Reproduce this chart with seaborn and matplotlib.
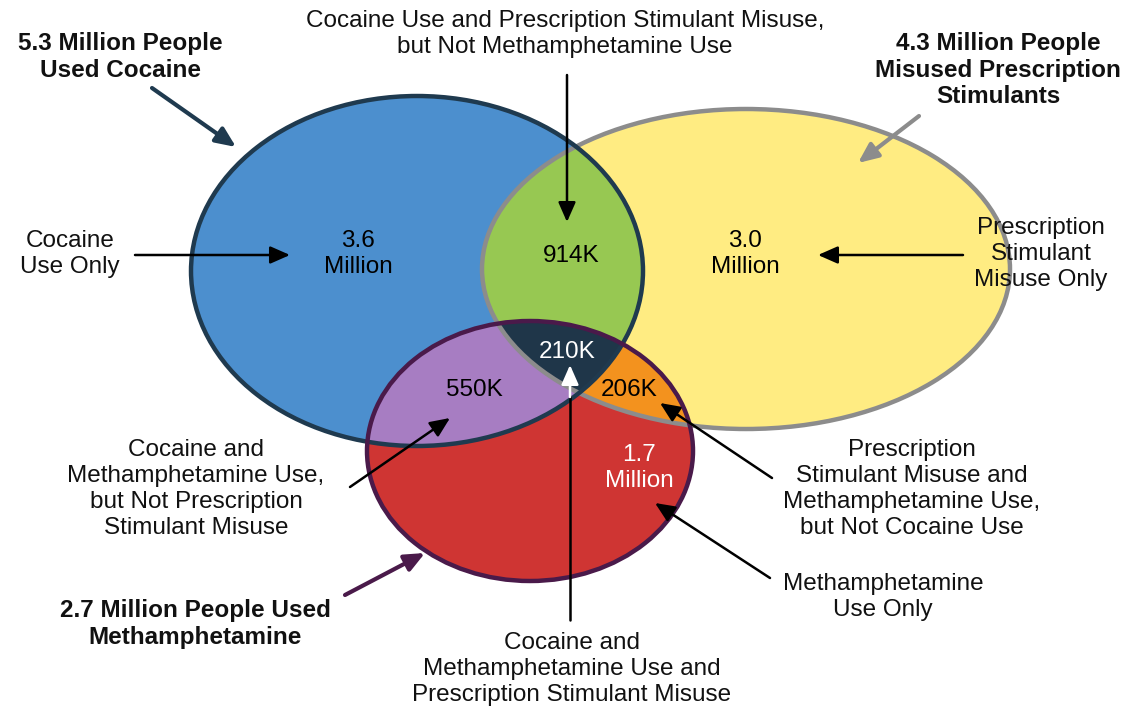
import numpy as np
import seaborn as sns
import matplotlib.pyplot as plt
from matplotlib.patches import Ellipse, Polygon

sns.set_style('white')
plt.rcParams['font.family'] = ['Liberation Sans', 'DejaVu Sans']

# set totals (millions) and region counts
set_names = ['Cocaine', 'Stimulants', 'Methamphetamine']
set_totals = ['5.3', '4.3', '2.7']
region_keys = ['C', 'S', 'M', 'CS', 'CM', 'SM', 'CSM']
region_values = ['3.6\nMillion', '3.0\nMillion', '1.7\nMillion', '914K', '550K', '206K', '210K']

# ellipse geometry in pixel space: centre x, centre y, width, height
shapes = {
    'C': (417, 271, 452, 350),
    'S': (746, 269, 528, 320),
    'M': (530, 451, 326, 260),
}
fill = {'C': '#4c8fce', 'S': '#ffec82', 'M': '#cf3533',
        'CS': '#97c852', 'CM': '#a77dc2', 'SM': '#f3921e', 'CSM': '#1f3649'}
edge = {'C': '#1f3a4f', 'S': '#8c8c8c', 'M': '#4a1a4a'}


def outline(key, n=1440):
    cx, cy, w, h = shapes[key]
    t = np.linspace(0, 2 * np.pi, n, endpoint=False)
    return np.column_stack([cx + w / 2 * np.cos(t), cy + h / 2 * np.sin(t)])


def inside(pts, key):
    cx, cy, w, h = shapes[key]
    return ((pts[:, 0] - cx) / (w / 2)) ** 2 + ((pts[:, 1] - cy) / (h / 2)) ** 2 <= 1.0001


def overlap(keys):
    # intersection of convex shapes: boundary points inside all others, sorted by angle
    pts = []
    for k in keys:
        p = outline(k)
        mask = np.ones(len(p), bool)
        for o in keys:
            if o != k:
                mask &= inside(p, o)
        pts.append(p[mask])
    pts = np.vstack(pts)
    c = pts.mean(axis=0)
    ang = np.arctan2(pts[:, 1] - c[1], pts[:, 0] - c[0])
    return pts[np.argsort(ang)]


fig = plt.figure(figsize=(11.27, 7.08), dpi=100)
ax = fig.add_axes([0, 0, 1, 1])
ax.set_xlim(0, 1127)
ax.set_ylim(708, 0)
ax.axis('off')

for k in ['C', 'S', 'M']:
    cx, cy, w, h = shapes[k]
    ax.add_patch(Ellipse((cx, cy), w, h, facecolor=fill[k], edgecolor='none'))
for k in ['CS', 'CM', 'SM', 'CSM']:
    ax.add_patch(Polygon(overlap(list(k)), closed=True, facecolor=fill[k], edgecolor='none'))
for k in ['S', 'C', 'M']:
    cx, cy, w, h = shapes[k]
    ax.add_patch(Ellipse((cx, cy), w, h, facecolor='none', edgecolor=edge[k], linewidth=3.2))

fs = 17.5
ls = 1.22
# region numbers
value_pos = {'C': (358, 254), 'S': (745, 254), 'M': (639, 468), 'CS': (571, 256),
             'CM': (474, 390), 'SM': (629, 390), 'CSM': (567, 352)}
for k, v in zip(region_keys, region_values):
    col = 'white' if k in ('M', 'CSM') else 'black'
    x, y = value_pos[k]
    ax.text(x, y, v, ha='center', va='center', fontsize=fs, color=col, linespacing=ls)

# set titles
bold = dict(fontsize=fs, fontweight='bold', ha='center', va='center', linespacing=ls, color='#111111')
ax.text(120, 57, f'{set_totals[0]} Million People\nUsed Cocaine', **bold)
ax.text(998, 70, f'{set_totals[1]} Million People\nMisused Prescription\nStimulants', **bold)
ax.text(195, 624, f'{set_totals[2]} Million People Used\n{set_names[2]}', **bold)

# callout labels
lab = dict(fontsize=fs, ha='center', va='center', linespacing=ls, color='#111111')
ax.text(565, 34, 'Cocaine Use and Prescription Stimulant Misuse,\nbut Not Methamphetamine Use', **lab)
ax.text(70, 254, 'Cocaine\nUse Only', **lab)
ax.text(1041, 254, 'Prescription\nStimulant\nMisuse Only', **lab)
ax.text(196, 489, 'Cocaine and\nMethamphetamine Use,\nbut Not Prescription\nStimulant Misuse', **lab)
ax.text(912, 489, 'Prescription\nStimulant Misuse and\nMethamphetamine Use,\nbut Not Cocaine Use', **lab)
ax.text(883, 597, 'Methamphetamine\nUse Only', **lab)
ax.text(572, 669, 'Cocaine and\nMethamphetamine Use and\nPrescription Stimulant Misuse', **lab)


def arrow(x0, y0, x1, y1, color='black', lw=1.8, ms=24):
    ax.annotate('', xy=(x1, y1), xytext=(x0, y0),
                arrowprops=dict(arrowstyle='-|>,head_length=0.5,head_width=0.22', color=color, lw=lw,
                                mutation_scale=ms, shrinkA=0, shrinkB=0))


arrow(152, 88, 236, 147, color='#1f3a4f', lw=3)
arrow(919, 116, 858, 163, color='#8c8c8c', lw=3)
arrow(135, 255, 290, 255)
arrow(567, 75, 567, 222)
arrow(963, 255, 818, 255)
arrow(350, 487, 450, 418)
arrow(772, 478, 660, 403)
arrow(770, 578, 655, 503)
arrow(345, 595, 425, 553, color='#4a1a4a', lw=3)
ax.plot([570, 570], [620, 396], color='black', lw=1.8)
arrow(570, 397, 570, 365, color='white')

fig.savefig('out.png', dpi=100)
